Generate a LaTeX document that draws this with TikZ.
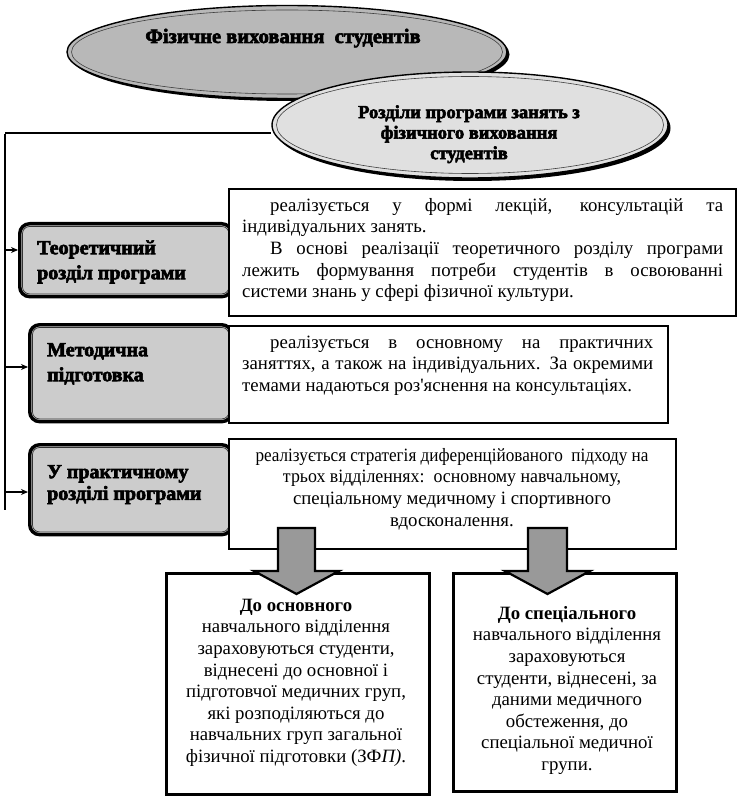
\documentclass[tikz,border=0pt]{standalone}
\usepackage{graphicx}
\usepackage{fontspec}
\setmainfont{Liberation Serif}
\newfontfamily\heavyfont{Liberation Serif}[FakeBold=3]
\usetikzlibrary{shapes.geometric,arrows.meta,backgrounds}
\newcommand{\bodyfnt}{\fontsize{18.8}{21.6}\selectfont}
\newcommand{\headfnt}{\heavyfont\bfseries\fontsize{20}{25}\selectfont}
\newcommand{\headfntb}{\heavyfont\bfseries\fontsize{20}{21.7}\selectfont}
\newcommand{\ellfnt}{\heavyfont\bfseries\fontsize{20.5}{20.5}\selectfont}
\newcommand{\ellfntb}{\heavyfont\bfseries\fontsize{18.5}{20.5}\selectfont}

\tikzset{
  ellshape/.style={ellipse, inner sep=0pt, draw=black, line width=1.4pt},
  ellline/.style={ellipse, inner sep=0pt, draw=black!75, line width=0.6pt},
  ellshadow/.style={ellipse, inner sep=0pt, fill=black},
  lbox/.style={rectangle, rounded corners=10pt, draw=black, line width=3.4pt, fill=black!20, inner sep=0pt, anchor=north west},
  linner/.style={rounded corners=7pt, draw=black!80, line width=0.7pt},
  rbox/.style={rectangle, draw=black, line width=2.2pt, fill=white, inner sep=0pt, anchor=north west},
  spine/.style={draw=black, line width=2.2pt},
  conn/.style={draw=black, line width=1.8pt, -{Stealth[length=7pt,width=6pt]}},
  blockarrow/.style={fill=black!40, draw=black, line width=2.2pt, line join=miter},
  bodytext/.style={inner sep=0pt, font=\bodyfnt},
  headtext/.style={inner sep=0pt, align=left, anchor=north west},
}

\begin{document}
\begin{tikzpicture}[x=1pt,y=-1pt]
\useasboundingbox (0,0) rectangle (739,799);

% ---- ellipse 1
\node[ellshadow, minimum width=440pt, minimum height=93pt] (e1s) at (289.5,54.5) {};
\node[ellshape, fill=black!28, minimum width=440pt, minimum height=93pt] (e1) at (287,52) {};
\node[ellline, minimum width=431pt, minimum height=84pt] (e1i) at (287,52) {};
\node[anchor=base, inner sep=0pt, font=\ellfnt] (e1t) at (283,43) {Фізичне виховання\ \ студентів};

% ---- ellipse 2
\node[ellshadow, minimum width=396pt, minimum height=106pt] (e2s) at (472.5,128) {};
\node[ellshape, fill=black!12, minimum width=396pt, minimum height=106pt] (e2) at (470,125) {};
\node[ellline, minimum width=387pt, minimum height=97pt] (e2i) at (470,125) {};
\node[anchor=north, align=center, inner sep=0pt, font=\ellfntb] (e2t) at (469,103.6) {\strut Розділи програми занять з\\фізичного виховання\\студентів};

% ---- spine
\coordinate (spTop) at (5,133);
\coordinate (spBot) at (5,510);
\begin{scope}[on background layer]
  \draw[spine] (spTop) -- (spTop -| e2.west);
\end{scope}
\draw[spine] ([yshift=-1.1pt]spTop) -- (spBot);

% ---- left boxes
\node[lbox, minimum width=212pt, minimum height=73pt] (b1) at (18,222) {};
\draw[linner] ([shift={(4.5,4.5)}]b1.north west) rectangle ([shift={(-4.5,-4.5)}]b1.south east);
\node[lbox, minimum width=202pt, minimum height=97pt] (b2) at (28,323) {};
\draw[linner] ([shift={(4.5,4.5)}]b2.north west) rectangle ([shift={(-4.5,-4.5)}]b2.south east);
\node[lbox, minimum width=202pt, minimum height=90pt] (b3) at (28,443) {};
\draw[linner] ([shift={(4.5,4.5)}]b3.north west) rectangle ([shift={(-4.5,-4.5)}]b3.south east);

\node[headtext, font=\headfnt] (b1t) at (37,236.5) {\strut Теоретичний\\розділ програми};
\node[headtext, font=\headfnt] (b2t) at (47,338.5) {\strut Методична\\підготовка};
\node[headtext, font=\headfntb] (b3t) at (47,462.8) {\strut У практичному\\розділі програми};

\coordinate (a1) at (5,250);
\coordinate (a2) at (5,367);
\coordinate (a3) at (5,492);
\draw[conn] (a1) -- (a1 -| b1.west);
\draw[conn] (a2) -- (a2 -| b2.west);
\draw[conn] (a3) -- (a3 -| b3.west);

% ---- right boxes
\node[rbox, minimum width=507pt, minimum height=127pt] (A) at (228,188) {};
\node[rbox, minimum width=439pt, minimum height=97pt] (B) at (228,325) {};
\node[rbox, minimum width=447pt, minimum height=110pt] (C) at (228,438) {};

\node[bodytext, anchor=north west, align=left] (tA) at (242,196) {%
\strut\hspace*{28pt}\makebox[453pt][s]{реалізується у формі лекцій, консультацій та}\\
індивідуальних занять.\\
\hspace*{28pt}\makebox[453pt][s]{В основі реалізації теоретичного розділу програми}\\
\makebox[481pt][s]{лежить формування потреби студентів в освоюванні}\\
системи знань у сфері фізичної культури.};

\node[bodytext, anchor=north west, align=left] (tB) at (242,333) {%
\strut\hspace*{28pt}\makebox[383pt][s]{реалізується в основному на практичних}\\
\makebox[411pt][s]{заняттях, а також на індивідуальних. За окремими}\\
темами надаються роз\textquotesingle яснення на консультаціях.};

\node[bodytext, anchor=north, align=center] (tC) at (452,446) {%
\strut\resizebox{393pt}{\height}{реалізується стратегія диференційованого\ \ підходу на}\\
\resizebox{338pt}{\height}{трьох відділеннях:\ \ основному навчальному,}\\
спеціальному медичному і спортивного\\
вдосконалення.};

% ---- bottom boxes
\node[rbox, line width=2.6pt, minimum width=263pt, minimum height=221pt] (D) at (165,572) {};
\node[rbox, line width=2.6pt, minimum width=223pt, minimum height=218pt] (E) at (452,572) {};

\node[bodytext, anchor=north, align=center] (tD) at (296,596) {%
\strut\textbf{До основного}\\
навчального відділення\\
зараховуються студенти,\\
віднесені до основної і\\
підготовчої медичних груп,\\
які розподіляються до\\
навчальних груп загальної\\
фізичної підготовки (ЗФ\textit{П)}.};

\node[bodytext, anchor=north, align=center] (tE) at (567,604) {%
\strut\textbf{До спеціального}\\
навчального відділення\\
зараховуються\\
студенти, віднесені, за\\
даними медичного\\
обстеження, до\\
спеціальної медичної\\
групи.};

% ---- block arrows
\draw[blockarrow] (278,528) -- (315,528) -- (315,571) -- (339,571) -- (296.5,594) -- (254,571) -- (278,571) -- cycle;
\draw[blockarrow] (528,528) -- (567,528) -- (567,571) -- (590,571) -- (547.5,594) -- (505,571) -- (528,571) -- cycle;

\end{tikzpicture}
\end{document}
